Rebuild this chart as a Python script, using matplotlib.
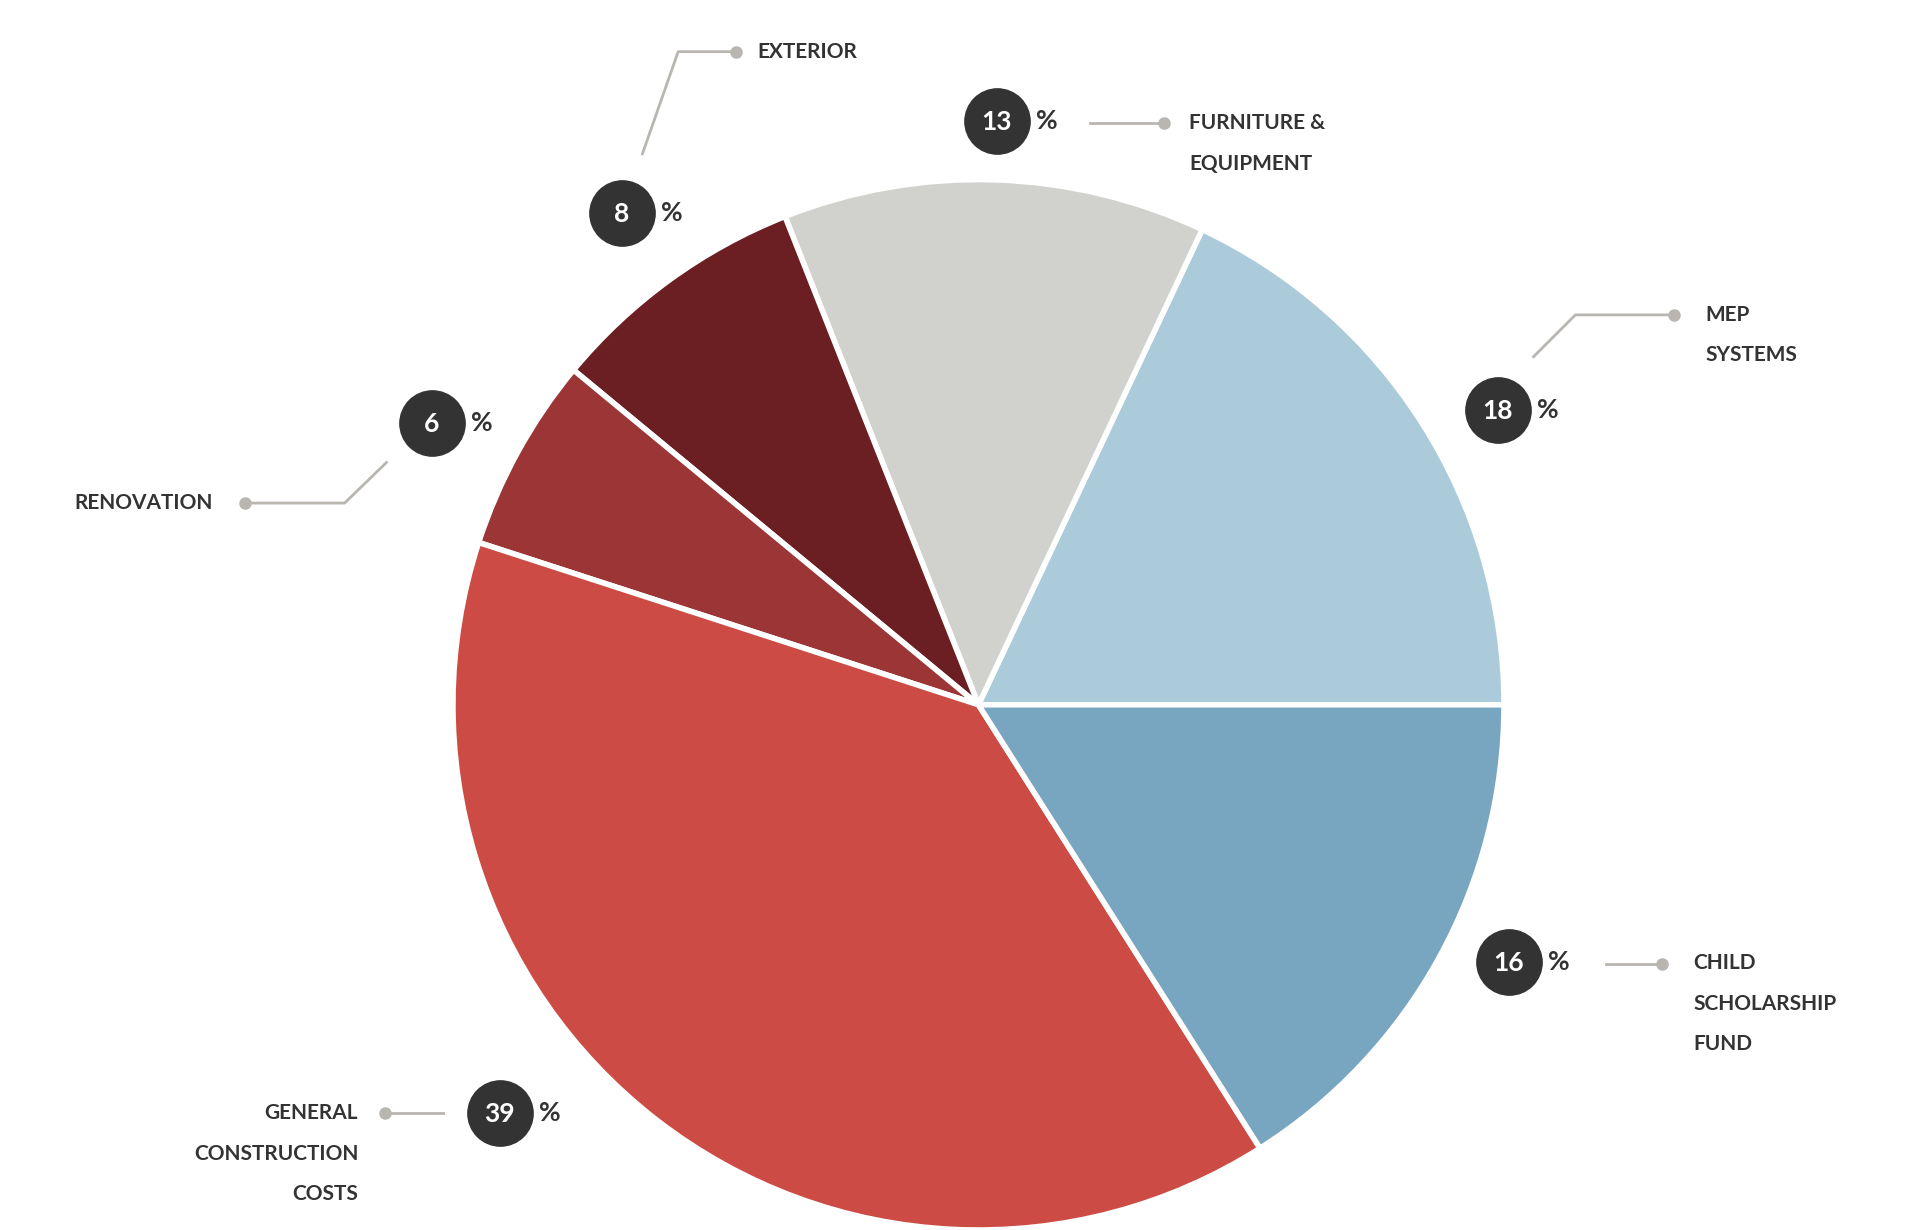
import matplotlib.pyplot as plt

categories = ["MEP\nSYSTEMS", "FURNITURE &\nEQUIPMENT", "EXTERIOR", "RENOVATION",
              "GENERAL\nCONSTRUCTION\nCOSTS", "CHILD\nSCHOLARSHIP\nFUND"]
values = [18, 13, 8, 6, 39, 16]
colors = ["#accbda", "#d1d1cd", "#6b1f22", "#9b3536", "#cc4c45", "#78a5bf"]

fig = plt.figure(figsize=(19.2, 12.3), dpi=100)
ax = fig.add_axes([0, 0, 1, 1])
ax.set_xlim(0, 1560)
ax.set_ylim(1000, 0)
ax.axis("off")

# y is inverted, so clockwise in data = counter-clockwise on screen
ax.pie(values, colors=colors, center=(795, 573), radius=427, startangle=0,
       counterclock=False, wedgeprops=dict(edgecolor="white", linewidth=4))
ax.set_xlim(0, 1560)
ax.set_ylim(1000, 0)
ax.set_aspect("auto")

grey = "#b9b6b1"
dark = "#333333"
# (circle pos, leader polyline, label pos, alignment) per slice
annos = [
    ((1217, 333), [(1246, 290), (1280, 256), (1360, 256)], (1386, 256), "left"),
    ((810, 98), [(886, 100), (946, 100)], (966, 100), "left"),
    ((505, 173), [(522, 125), (551, 42), (598, 42)], (615, 42), "left"),
    ((351, 344), [(314, 376), (280, 409), (199, 409)], (173, 409), "right"),
    ((406, 905), [(360, 905), (313, 905)], (291, 905), "right"),
    ((1226, 782), [(1305, 784), (1350, 784)], (1376, 783), "left"),
]

for (cat, v, (c, line, lab, ha)) in zip(categories, values, annos):
    ax.plot(*c, "o", ms=47, color=dark, zorder=5)
    ax.text(c[0], c[1] + 1, str(v), color="white", fontsize=19, fontweight="bold",
            ha="center", va="center", family="Lato", zorder=6)
    ax.text(c[0] + 32, c[1], "%", color=dark, fontsize=19, fontweight="bold",
            ha="left", va="center", family="Lato")
    xs = [p[0] for p in line]
    ys = [p[1] for p in line]
    ax.plot(xs, ys, color=grey, lw=2)
    ax.plot(xs[-1], ys[-1], "o", ms=8, color=grey)
    for i, s in enumerate(cat.split("\n")):
        ax.text(lab[0], lab[1] + 33 * i, s, color=dark, fontsize=15, fontweight="bold",
                ha=ha, va="center", family="Lato")

fig.savefig("out.png", dpi=100, facecolor="white")
